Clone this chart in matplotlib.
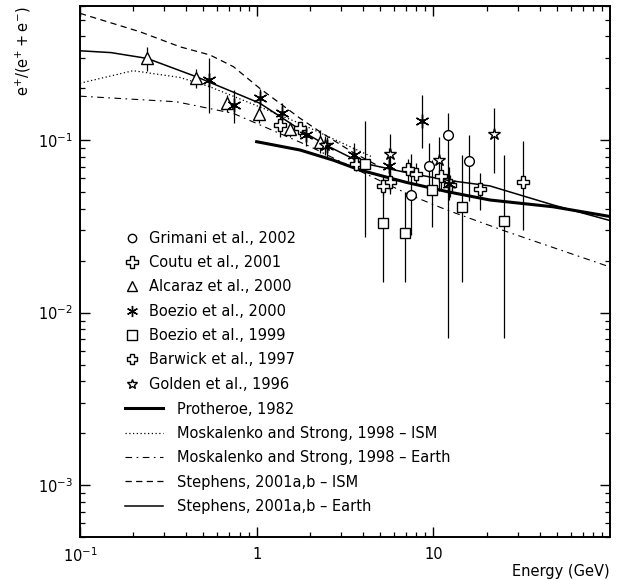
import matplotlib
matplotlib.use('Agg')
import matplotlib.pyplot as plt
from matplotlib.lines import Line2D
from matplotlib.ticker import NullFormatter, FixedLocator, FixedFormatter
import numpy as np

plt.rcParams['font.family'] = ['DejaVu Sans']
plt.rcParams['mathtext.fontset'] = 'dejavusans'
FS = 10.5

# ---- data points: energy (GeV), e+/(e+ + e-), error bar low / high ----
grimani_E = [7.47, 9.49, 12.1, 16.0]
grimani_y = [0.048, 0.0705, 0.107, 0.0756]
grimani_lo = [0.0282, 0.0536, 0.0071, 0.0442]
grimani_hi = [0.0834, 0.0966, 0.143, 0.107]

coutu_E = [1.355, 1.76, 3.65, 5.71, 12.4]
coutu_y = [0.122, 0.117, 0.0727, 0.0574, 0.055]
coutu_lo = [0.105, 0.104, 0.066, 0.049, 0.047]
coutu_hi = [0.137, 0.128, 0.080, 0.067, 0.063]

alcaraz_E = [0.240, 0.455, 0.679, 1.026, 1.54, 2.28]
alcaraz_y = [0.298, 0.229, 0.164, 0.141, 0.116, 0.098]
alcaraz_lo = [0.252, 0.202, 0.145, 0.126, 0.104, 0.084]
alcaraz_hi = [0.347, 0.257, 0.184, 0.157, 0.128, 0.114]

boezio00_E = [0.539, 0.744, 1.04, 1.40, 1.90, 2.51, 3.56, 5.6, 8.59, 12.2]
boezio00_y = [0.223, 0.159, 0.175, 0.144, 0.107, 0.092, 0.082, 0.0705, 0.129, 0.056]
boezio00_lo = [0.143, 0.126, 0.153, 0.124, 0.092, 0.080, 0.071, 0.055, 0.0895, 0.045]
boezio00_hi = [0.301, 0.196, 0.199, 0.164, 0.119, 0.105, 0.096, 0.090, 0.183, 0.070]

boezio99_E = [4.11, 5.16, 6.93, 9.78, 14.5, 25.1]
boezio99_y = [0.0725, 0.0332, 0.0291, 0.0514, 0.0411, 0.0341]
boezio99_lo = [0.0273, 0.0151, 0.0151, 0.0312, 0.0151, 0.0071]
boezio99_hi = [0.130, 0.0562, 0.050, 0.0766, 0.0823, 0.0823]

barwick_E = [5.16, 7.21, 8.03, 11.0, 18.4, 32.3]
barwick_y = [0.0542, 0.0678, 0.0637, 0.0619, 0.0519, 0.0574]
barwick_lo = [0.0477, 0.058, 0.055, 0.052, 0.0394, 0.0302]
barwick_hi = [0.062, 0.078, 0.074, 0.073, 0.0641, 0.0988]

golden_E = [2.45, 5.68, 10.8, 22.0]
golden_y = [0.094, 0.0827, 0.0767, 0.1093]
golden_lo = [0.082, 0.051, 0.051, 0.0641]
golden_hi = [0.106, 0.109, 0.104, 0.153]

# ---- model curves ----
protheroe_E = [1.0, 1.76, 2.7, 3.85, 7.0, 12.1, 20.9, 47.6, 100]
protheroe_y = [0.098, 0.0877, 0.0767, 0.0671, 0.057, 0.0502, 0.045, 0.0411, 0.0361]

moskISM_E = [0.1, 0.2, 0.368, 0.544, 1.04, 1.76, 3.0, 4.5]
moskISM_y = [0.214, 0.253, 0.231, 0.204, 0.156, 0.125, 0.097, 0.080]

moskEarth_E = [0.1, 0.352, 0.738, 2.0, 3.85, 7.38, 11.9, 26.0, 100]
moskEarth_y = [0.180, 0.167, 0.143, 0.092, 0.0661, 0.0481, 0.0394, 0.0295, 0.0184]

stephISM_E = [0.1, 0.219, 0.368, 0.544, 0.738, 1.04, 1.76, 2.28, 3.5, 5.0]
stephISM_y = [0.544, 0.425, 0.348, 0.312, 0.267, 0.200, 0.134, 0.112, 0.085, 0.070]

stephEarth_E = [0.1, 0.15, 0.24, 0.457, 1.04, 1.91, 2.59, 3.9, 7.0, 12.1, 20.9, 47.7, 100]
stephEarth_y = [0.330, 0.322, 0.298, 0.233, 0.164, 0.109, 0.0913, 0.074, 0.065, 0.0585, 0.0543, 0.0421, 0.0342]

fig = plt.figure(figsize=(6.27, 5.8), dpi=100)
ax = fig.add_axes([80/627, 1-537/580, 530/627, 531/580])


def points(E, y, lo, hi, marker, ms, mew=1.0):
    E = np.array(E); y = np.array(y)
    yerr = [y - np.array(lo), np.array(hi) - y]
    ax.errorbar(E, y, yerr=yerr, fmt='none', ecolor='k', elinewidth=0.9, zorder=3)
    ax.plot(E, y, ls='none', marker=marker, ms=ms, mfc='white', mec='k', mew=mew, zorder=4)


points(grimani_E, grimani_y, grimani_lo, grimani_hi, 'o', 7)
points(coutu_E, coutu_y, coutu_lo, coutu_hi, 'P', 9)
points(alcaraz_E, alcaraz_y, alcaraz_lo, alcaraz_hi, '^', 8.5)
points(boezio00_E, boezio00_y, boezio00_lo, boezio00_hi, (6, 2, 0), 10)
points(boezio99_E, boezio99_y, boezio99_lo, boezio99_hi, 's', 7)
points(barwick_E, barwick_y, barwick_lo, barwick_hi, 'P', 8)
points(golden_E, golden_y, golden_lo, golden_hi, '*', 9)
ax.plot(boezio00_E, boezio00_y, ls='none', marker='o', ms=2.5, color='k', zorder=5)

ax.plot(protheroe_E, protheroe_y, color='k', lw=2.2, zorder=2)
ax.plot(moskISM_E, moskISM_y, color='k', lw=0.9, ls=(0, (1, 2)), zorder=2)
ax.plot(moskEarth_E, moskEarth_y, color='k', lw=0.8, ls=(0, (6, 4, 1.5, 4)), zorder=2)
ax.plot(stephISM_E, stephISM_y, color='k', lw=0.9, ls=(0, (5, 3.5)), zorder=2)
ax.plot(stephEarth_E, stephEarth_y, color='k', lw=1.1, zorder=2)

ax.set_xscale('log')
ax.set_yscale('log')
ax.set_xlim(0.1, 100)
ax.set_ylim(5e-4, 0.6)

ax.xaxis.set_major_locator(FixedLocator([0.1, 1, 10]))
ax.xaxis.set_major_formatter(FixedFormatter([r'$10^{-1}$', '1', '10']))
ax.xaxis.set_minor_formatter(NullFormatter())
ax.yaxis.set_minor_formatter(NullFormatter())
ax.tick_params(which='both', direction='in', top=True, right=True, labelsize=FS)
ax.tick_params(which='major', length=7, width=1)
ax.tick_params(which='minor', length=3.5, width=0.9)
ax.tick_params(axis='x', pad=7)
ax.tick_params(axis='y', pad=5)
for s in ax.spines.values():
    s.set_linewidth(1.4)

ax.set_xlabel('Energy (GeV)', fontsize=FS, loc='right')
ax.xaxis.set_label_coords(1.0, -0.05)
ax.set_ylabel(r'$\mathregular{e^{+}/(e^{+} + e^{-})}$', fontsize=FS, loc='top')
ax.yaxis.set_label_coords(-0.088, 1.0)

# legends
mk = dict(ls='none', mfc='none', mec='k', mew=1.0)
h1 = [Line2D([], [], marker='o', ms=6, **mk),
      Line2D([], [], marker='P', ms=8, **mk),
      Line2D([], [], marker='^', ms=7, **mk),
      Line2D([], [], marker=(6, 2, 0), ms=8, **mk),
      Line2D([], [], marker='s', ms=6.5, **mk),
      Line2D([], [], marker='P', ms=7, **mk),
      Line2D([], [], marker='*', ms=7.5, **mk)]
l1 = ['Grimani et al., 2002', 'Coutu et al., 2001', 'Alcaraz et al., 2000',
      'Boezio et al., 2000', 'Boezio et al., 1999', 'Barwick et al., 1997',
      'Golden et al., 1996']
leg1 = ax.legend(h1, l1, loc='upper left', bbox_to_anchor=(0.0868, 0.577),
                 frameon=False, handlelength=0.8, handletextpad=0.8,
                 labelspacing=0.64, borderpad=0, borderaxespad=0, fontsize=FS)
ax.add_artist(leg1)

h2 = [Line2D([], [], color='k', lw=2.2),
      Line2D([], [], color='k', lw=0.9, ls=(0, (1, 2))),
      Line2D([], [], color='k', lw=0.8, ls=(0, (6, 4, 1.5, 4))),
      Line2D([], [], color='k', lw=0.9, ls=(0, (5, 3.5))),
      Line2D([], [], color='k', lw=1.1)]
l2 = ['Protheroe, 1982', 'Moskalenko and Strong, 1998 \u2013 ISM',
      'Moskalenko and Strong, 1998 \u2013 Earth', 'Stephens, 2001a,b \u2013 ISM',
      'Stephens, 2001a,b \u2013 Earth']
ax.legend(h2, l2, loc='upper left', bbox_to_anchor=(0.0849, 0.255),
          frameon=False, handlelength=2.6, handletextpad=1.0,
          labelspacing=0.64, borderpad=0, borderaxespad=0, fontsize=FS)

fig.savefig('out.png', dpi=100)
